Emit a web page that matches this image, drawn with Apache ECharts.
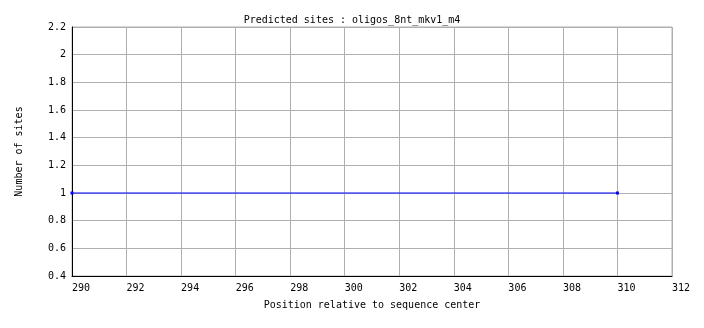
<!DOCTYPE html>
<html><head><meta charset="utf-8">
<script src="https://cdn.jsdelivr.net/npm/echarts@6/dist/echarts.min.js"></script>
<style>html,body{margin:0;padding:0;background:#fff}#c{width:704px;height:328px}</style>
</head><body><div id="c"></div>
<script>
const titleText = "Predicted sites : oligos_8nt_mkv1_m4";
const xName = "Position relative to sequence center";
const yName = "Number of sites";
const positions = [290, 310];
const sites = [1, 1];
const xMin = 290, xMax = 312, xStep = 2;
const yMin = 0.4, yMax = 2.2, yStep = 0.2;

const font = "DejaVu Sans Mono";
const chart = echarts.init(document.getElementById('c'), null, {renderer: 'canvas'});
chart.setOption({
  backgroundColor: '#fff',
  animation: false,
  title: {text: titleText, left: 'center', top: 10,
    textStyle: {fontFamily: font, fontSize: 10, fontWeight: 'normal', color: '#000'}},
  grid: {left: 72, right: 32, top: 27, bottom: 52, show: true, borderColor: '#b0b0b0', borderWidth: 1},
  xAxis: {type: 'value', min: xMin, max: xMax, interval: xStep,
    name: xName, nameLocation: 'middle', nameGap: 24,
    nameTextStyle: {fontFamily: font, fontSize: 10, color: '#000'},
    axisLine: {show: true, onZero: false, lineStyle: {color: '#000', width: 1}},
    axisTick: {show: false},
    axisLabel: {fontFamily: font, fontSize: 10, color: '#000', align: 'left', margin: 7,
      formatter: v => String(v)},
    splitLine: {show: true, lineStyle: {color: '#b0b0b0', width: 1}}},
  yAxis: {type: 'value', min: yMin, max: yMax, interval: yStep,
    name: yName, nameLocation: 'middle', nameGap: 48, nameRotate: 90,
    nameTextStyle: {fontFamily: font, fontSize: 10, color: '#000'},
    axisLine: {show: true, onZero: false, lineStyle: {color: '#000', width: 1}},
    axisTick: {show: false},
    axisLabel: {fontFamily: font, fontSize: 10, color: '#000', margin: 6,
      formatter: v => String(Math.round(v*10)/10)},
    splitLine: {show: true, lineStyle: {color: '#b0b0b0', width: 1}}},
  series: [{type: 'line', data: positions.map((p, i) => [p, sites[i]]),
    lineStyle: {color: '#0000ff', width: 1},
    itemStyle: {color: '#0000ff'},
    symbol: 'rect', symbolSize: 3, showSymbol: true}]
});
</script></body></html>
